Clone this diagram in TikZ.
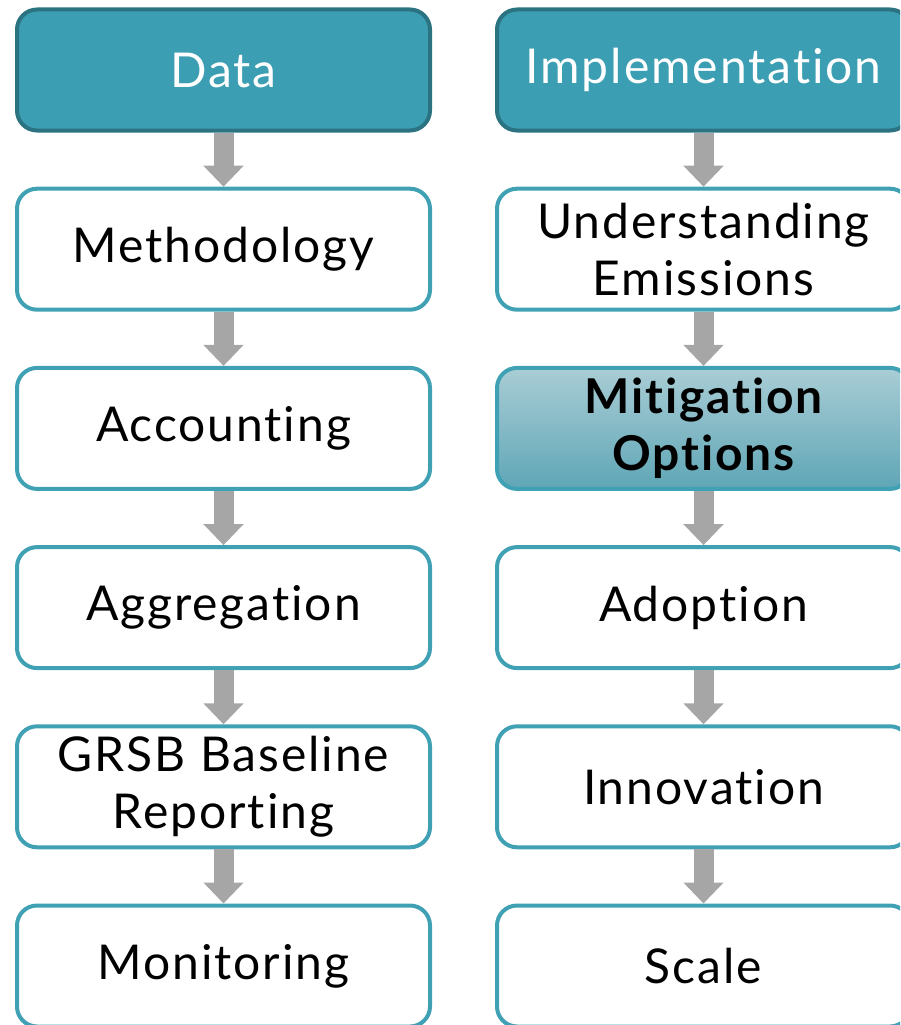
\documentclass[tikz,border=0pt]{standalone}
\usepackage{fontspec}
\setmainfont{Lato}[Ligatures={NoCommon,NoContextual}, LetterSpace=4]
\usetikzlibrary{arrows.meta}
\definecolor{tealhead}{HTML}{3C9EB2}
\definecolor{tealdark}{HTML}{2B7381}
\definecolor{tealline}{HTML}{40A1B4}
\definecolor{tealtop}{HTML}{A9CDD5}
\definecolor{tealbot}{HTML}{5FA6B6}
\definecolor{arrowgray}{HTML}{A6A6A6}
\begin{document}
\begin{tikzpicture}[
    x=1pt, y=-1pt,
    every node/.style={rounded corners=20pt, line width=4pt, minimum width=413pt,
        minimum height=121pt, align=center, font=\fontsize{48}{57}\selectfont},
    headbox/.style={draw=tealdark, fill=tealhead, text=white},
    stepbox/.style={draw=tealline, fill=white},
    hibox/.style={draw=tealline, top color=tealtop, bottom color=tealbot,
        font=\fontsize{48}{57}\selectfont\bfseries},
    flow/.style={draw=arrowgray, line width=20pt, -{Triangle[width=39pt,length=21pt]}},
]
\useasboundingbox (0,0) rectangle (900,1025);
\clip (0,0) rectangle (900,1025);

% left column
\foreach \name/\sty/\txt [count=\i from 0] in {data/headbox/Data,
    meth/stepbox/Methodology, acct/stepbox/Accounting, aggr/stepbox/Aggregation,
    grsb/stepbox/GRSB Baseline\\Reporting, moni/stepbox/Monitoring} {
    \node[\sty] (\name) at (223.5, 70+179.2*\i) {\txt};
}
% right column
\foreach \name/\sty/\txt [count=\i from 0] in {impl/headbox/Implementation,
    unde/stepbox/Understanding\\Emissions, miti/hibox/Mitigation\\Options,
    adop/stepbox/Adoption, inno/stepbox/Innovation, scal/stepbox/Scale} {
    \node[\sty] (\name) at (703.5, 70+179.2*\i) {\txt};
}

\foreach \a/\b in {data/meth, meth/acct, acct/aggr, aggr/grsb, grsb/moni,
    impl/unde, unde/miti, miti/adop, adop/inno, inno/scal} {
    \draw[flow] (\a) -- (\b);
}
\end{tikzpicture}
\end{document}
